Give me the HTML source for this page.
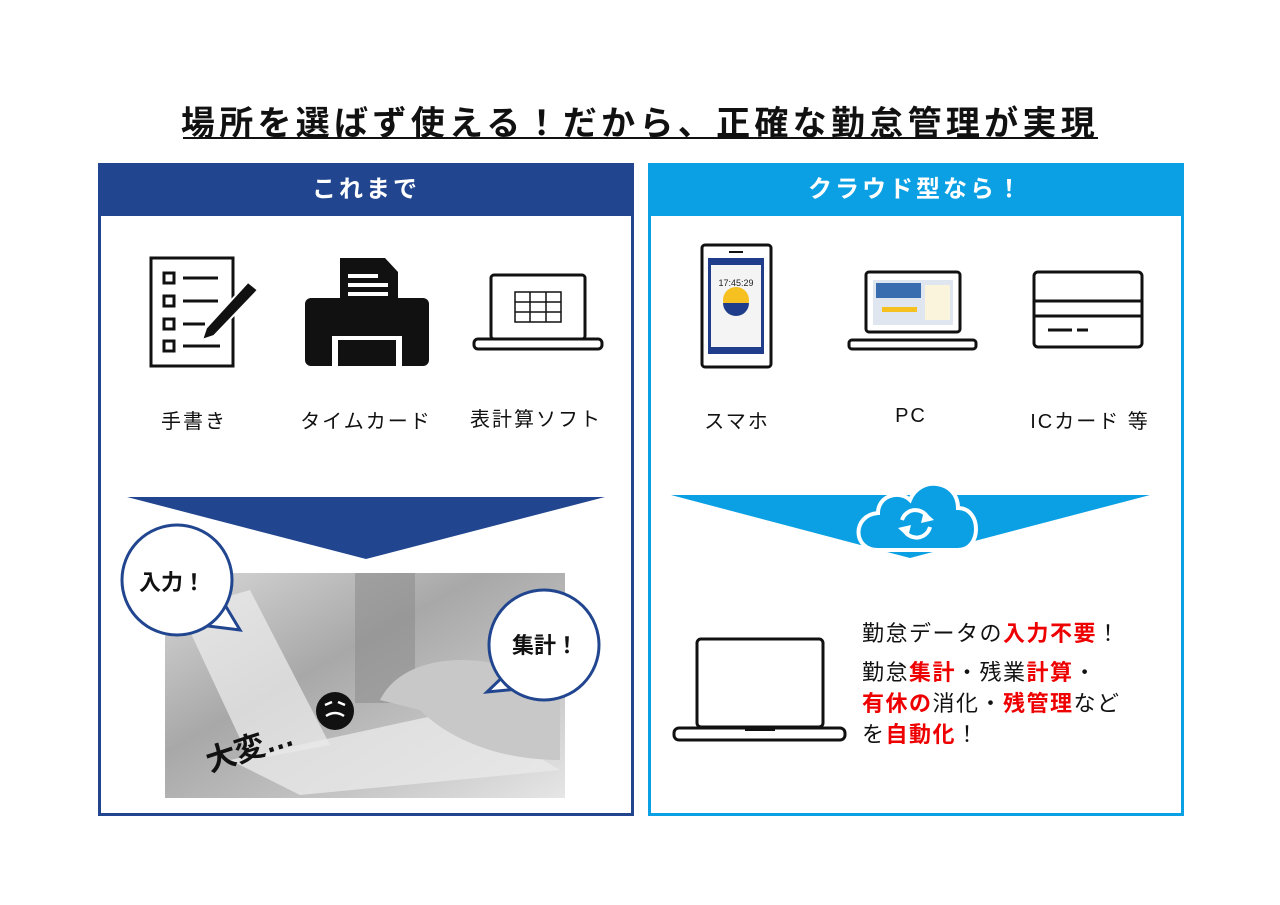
<!DOCTYPE html>
<html><head><meta charset="utf-8"><style>
body{margin:0;width:1280px;height:905px;background:#fff;position:relative;overflow:hidden;font-family:"Liberation Sans","Noto Sans CJK JP",sans-serif;}
.a{position:absolute;}
.lbl{position:absolute;font-size:20px;color:#111;text-align:center;width:160px;letter-spacing:2px;}
</style></head><body>
<div class="a" style="left:0;width:1280px;top:96px;text-align:center;font-size:34px;font-weight:bold;letter-spacing:4.3px;color:#111;">場所を選ばず使える！だから、正確な勤怠管理が実現</div>
<div class="a" style="left:183px;top:137px;width:915px;height:2px;background:#111"></div>

<div class="a" style="left:98px;top:163px;width:530px;height:647px;border:3px solid #21468f;"></div>
<div class="a" style="left:98px;top:163px;width:536px;height:53px;background:#21468f;color:#fff;font-size:24px;font-weight:bold;text-align:center;line-height:53px;letter-spacing:3px;">これまで</div>
<div class="a" style="left:648px;top:163px;width:530px;height:647px;border:3px solid #0aa0e3;"></div>
<div class="a" style="left:648px;top:163px;width:536px;height:53px;background:#0aa0e3;color:#fff;font-size:24px;font-weight:bold;text-align:center;line-height:53px;letter-spacing:3px;">クラウド型なら！</div>

<svg class="a" style="left:0;top:0" width="1280" height="905">
<rect x="151" y="258" width="82" height="108" fill="none" stroke="#111" stroke-width="3"/>
<g fill="none" stroke="#111" stroke-width="3">
<rect x="164" y="273" width="10" height="10"/><rect x="164" y="296" width="10" height="10"/><rect x="164" y="319" width="10" height="10"/><rect x="164" y="341" width="10" height="10"/>
</g>
<g stroke="#111" stroke-width="3"><line x1="183" y1="278" x2="218" y2="278"/><line x1="183" y1="301" x2="218" y2="301"/><line x1="183" y1="324" x2="205" y2="324"/><line x1="183" y1="346" x2="220" y2="346"/></g>
<polygon points="248,282 258,290 214,336 202,340 206,328" fill="#111" stroke="#fff" stroke-width="2"/>
<polygon points="340,258 385,258 398,272 398,300 340,300" fill="#111"/>
<rect x="305" y="298" width="124" height="68" rx="6" fill="#111"/>
<rect x="348" y="274" width="30" height="4" fill="#fff"/><rect x="348" y="283" width="40" height="4" fill="#fff"/><rect x="348" y="292" width="40" height="4" fill="#fff"/>
<rect x="332" y="336" width="70" height="30" fill="#fff"/><rect x="338" y="340" width="58" height="26" fill="#111"/>
<rect x="491" y="275" width="94" height="64" rx="3" fill="none" stroke="#111" stroke-width="3"/>
<rect x="474" y="339" width="128" height="10" rx="4" fill="none" stroke="#111" stroke-width="3"/>
<g fill="none" stroke="#111" stroke-width="1.5"><rect x="515" y="292" width="46" height="30"/><line x1="515" y1="302" x2="561" y2="302"/><line x1="515" y1="312" x2="561" y2="312"/><line x1="530" y1="292" x2="530" y2="322"/><line x1="546" y1="292" x2="546" y2="322"/></g>

<rect x="702" y="245" width="69" height="122" rx="3" fill="#fff" stroke="#111" stroke-width="3"/>
<rect x="708" y="258" width="56" height="96" fill="#1f3d8a"/>
<rect x="711" y="265" width="50" height="82" fill="#f4f4f4"/>
<text x="736" y="286" font-size="9" text-anchor="middle" fill="#222">17:45:29</text>
<circle cx="736" cy="300" r="13" fill="#f5c020"/><path d="M723,303 A13,13 0 0 0 749,303Z" fill="#1f3d8a"/>
<rect x="729" y="251" width="14" height="2" fill="#111"/>
<rect x="866" y="272" width="94" height="60" rx="3" fill="none" stroke="#111" stroke-width="3"/>
<rect x="873" y="280" width="80" height="45" fill="#dfe6f0"/>
<rect x="876" y="283" width="45" height="15" fill="#3a6db0"/><rect x="882" y="307" width="35" height="5" fill="#f5c020"/><rect x="925" y="285" width="25" height="35" fill="#fbf4dc"/>
<rect x="849" y="340" width="127" height="9" rx="3" fill="none" stroke="#111" stroke-width="3"/>
<rect x="1034" y="272" width="108" height="75" rx="4" fill="none" stroke="#111" stroke-width="3"/>
<line x1="1034" y1="301" x2="1142" y2="301" stroke="#111" stroke-width="3"/><line x1="1034" y1="316" x2="1142" y2="316" stroke="#111" stroke-width="3"/>
<line x1="1048" y1="330" x2="1072" y2="330" stroke="#111" stroke-width="3"/><line x1="1077" y1="330" x2="1088" y2="330" stroke="#111" stroke-width="3"/>

<polygon points="127,497 605,497 366,559" fill="#21468f"/>
<polygon points="671,495 1150,495 910,558" fill="#0aa0e3"/>
<path d="M878,550 C852,550 852,515 878,513 C878,495 900,490 910,500 C920,475 958,480 958,508 C982,508 982,550 958,550 Z" fill="#0aa0e3" stroke="#fff" stroke-width="4"/>
<path d="M902,520 A14,14 0 0 1 928,518" fill="none" stroke="#fff" stroke-width="4"/><path d="M930,527 A14,14 0 0 1 904,530" fill="none" stroke="#fff" stroke-width="4"/>
<polygon points="924,511 934,520 921,523" fill="#fff"/><polygon points="908,537 898,528 911,525" fill="#fff"/>

<defs><linearGradient id="g" x1="0" y1="0" x2="1" y2="1"><stop offset="0" stop-color="#d8d8d8"/><stop offset="0.4" stop-color="#a8a8a8"/><stop offset="0.7" stop-color="#c4c4c4"/><stop offset="1" stop-color="#e6e6e6"/></linearGradient></defs>
<rect x="165" y="573" width="400" height="225" fill="url(#g)"/>
<rect x="355" y="573" width="60" height="130" fill="#8e8e8e" opacity="0.6"/>
<polygon points="180,610 250,590 330,745 250,760" fill="#eee" opacity="0.7"/>
<polygon points="230,760 460,710 560,770 300,795" fill="#e8e8e8" opacity="0.8"/>
<path d="M380,700 C400,660 460,650 520,670 L560,700 L560,760 C500,760 450,740 420,710Z" fill="#c8c8c8"/>
<path d="M200,625 L240,630 L222,600 Z" fill="#fff" stroke="#21468f" stroke-width="3"/>
<circle cx="177" cy="580" r="55" fill="#fff" stroke="#21468f" stroke-width="3"/>
<path d="M515,665 L487,692 L528,688 Z" fill="#fff" stroke="#21468f" stroke-width="3"/>
<circle cx="544" cy="645" r="55" fill="#fff" stroke="#21468f" stroke-width="3"/>
<text x="172" y="590" font-size="22" font-weight="bold" text-anchor="middle" fill="#111" font-family="Liberation Sans,Noto Sans CJK JP,sans-serif">入力！</text>
<text x="545" y="653" font-size="22" font-weight="bold" text-anchor="middle" fill="#111" font-family="Liberation Sans,Noto Sans CJK JP,sans-serif">集計！</text>
<circle cx="335" cy="711" r="19" fill="#111"/>
<path d="M325,705 L332,702 M338,702 L345,705 M326,716 Q335,710 344,716" stroke="#fff" stroke-width="2.5" fill="none"/>
<text x="210" y="772" font-size="30" font-weight="bold" fill="#111" transform="rotate(-18 210 772)" font-family="Liberation Sans,Noto Sans CJK JP,sans-serif">大変…</text>

<rect x="697" y="639" width="126" height="88" rx="4" fill="none" stroke="#111" stroke-width="3"/>
<rect x="674" y="728" width="171" height="12" rx="5" fill="none" stroke="#111" stroke-width="3"/>
<line x1="745" y1="730" x2="775" y2="730" stroke="#111" stroke-width="2"/>
</svg>

<div class="lbl" style="left:114px;top:405px;">手書き</div>
<div class="lbl" style="left:286px;top:405px;">タイムカード</div>
<div class="lbl" style="left:456px;top:403px;">表計算ソフト</div>
<div class="lbl" style="left:657px;top:405px;">スマホ</div>
<div class="lbl" style="left:831px;top:405px;">PC</div>
<div class="lbl" style="left:1010px;top:405px;">ICカード 等</div>

<div class="a" style="left:862px;top:618px;font-size:22px;line-height:31px;color:#111;letter-spacing:1.5px;white-space:nowrap;">
勤怠データの<b style="color:#e00">入力不要</b>！<br>
<div style="height:8px"></div>
勤怠<b style="color:#e00">集計</b>・残業<b style="color:#e00">計算</b>・<br>
<b style="color:#e00">有休の</b>消化・<b style="color:#e00">残管理</b>など<br>
を<b style="color:#e00">自動化</b>！
</div>
</body></html>
